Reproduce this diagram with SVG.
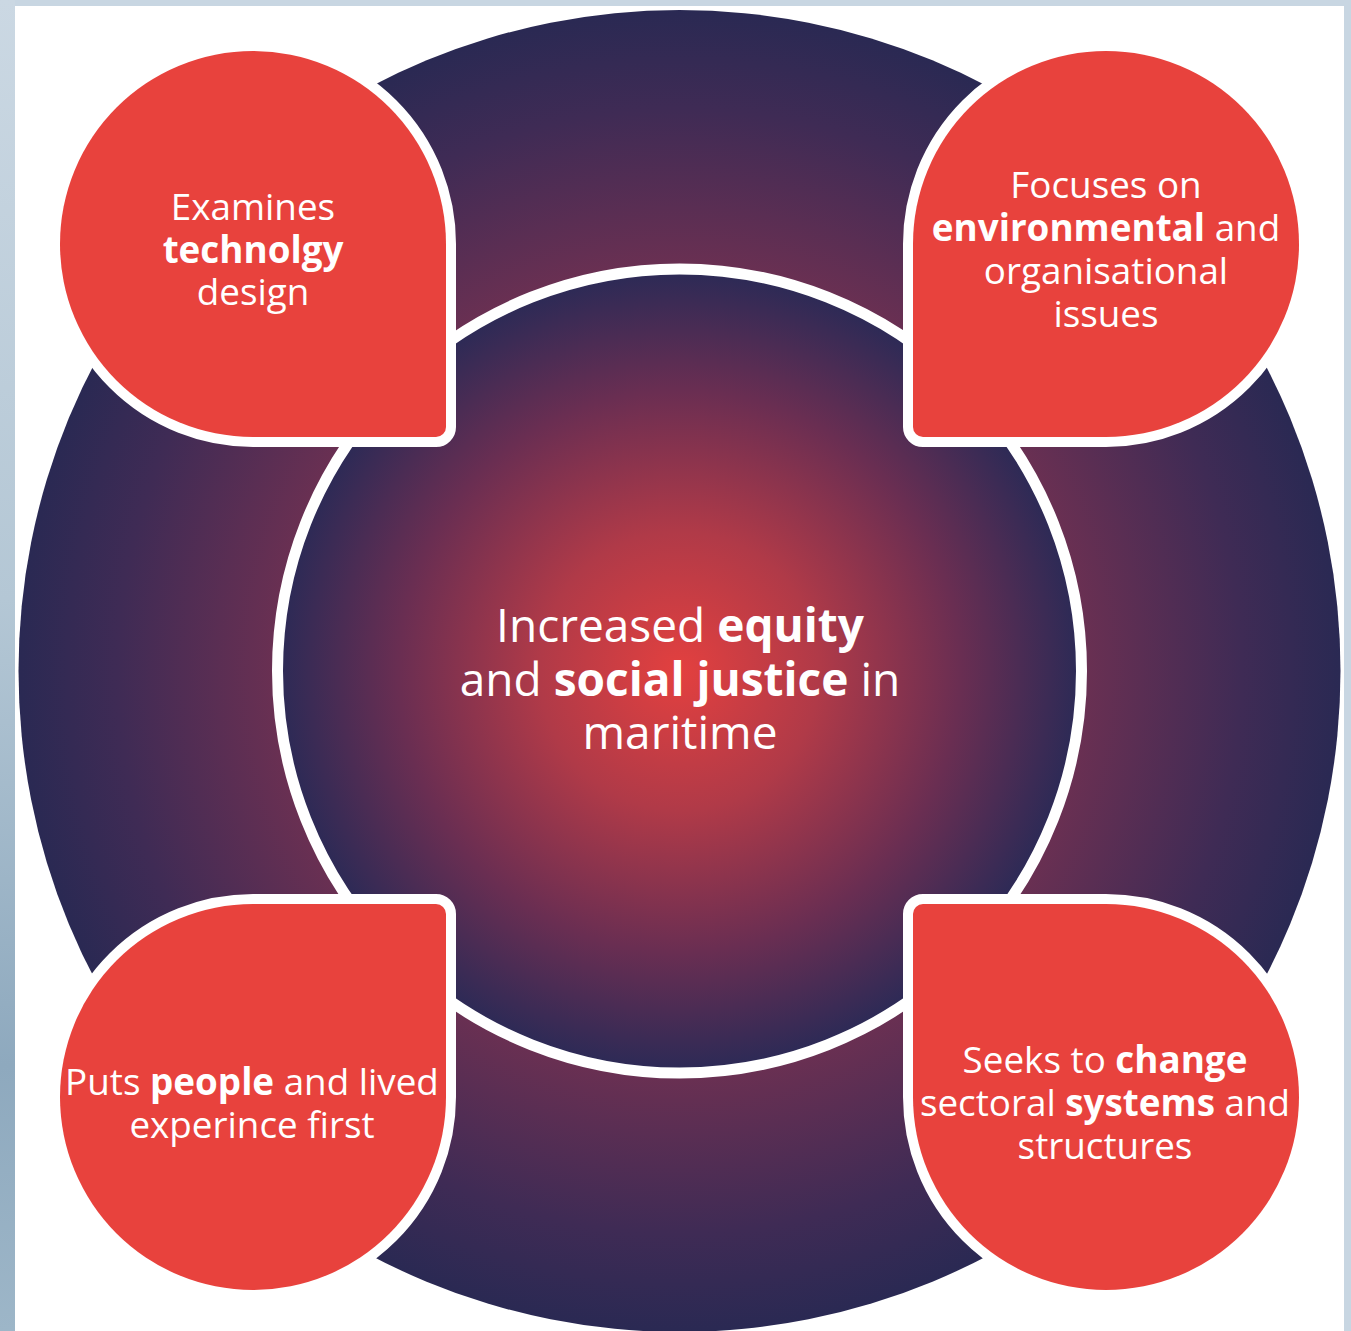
<svg xmlns="http://www.w3.org/2000/svg" width="1351" height="1331" viewBox="0 0 1351 1331">
  <defs>
    <linearGradient id="leftStrip" x1="0" y1="0" x2="0" y2="1">
      <stop offset="0" stop-color="#cbd8e3"/>
      <stop offset="0.45" stop-color="#b4c7d5"/>
      <stop offset="0.8" stop-color="#8ea9be"/>
      <stop offset="1" stop-color="#9db6c8"/>
    </linearGradient>
    <radialGradient id="outerGrad" gradientUnits="userSpaceOnUse" cx="679.5" cy="671" r="661">
      <stop offset="0" stop-color="#8a3250"/>
      <stop offset="0.6" stop-color="#6c3052"/>
      <stop offset="0.85" stop-color="#3f2b55"/>
      <stop offset="1" stop-color="#2a2953"/>
    </radialGradient>
    <radialGradient id="innerGrad" gradientUnits="userSpaceOnUse" cx="679.5" cy="671" r="400">
      <stop offset="0" stop-color="#e3403f"/>
      <stop offset="0.35" stop-color="#b03a48"/>
      <stop offset="0.7" stop-color="#6a2e52"/>
      <stop offset="1" stop-color="#2c2a56"/>
    </radialGradient>
    <style>
      .node { fill: #e8423d; stroke: #ffffff; stroke-width: 20; paint-order: stroke; stroke-linejoin: round; }
      .lbl { font-family: "Open Sans", "Liberation Sans", sans-serif; fill: #ffffff; text-anchor: middle; font-size: 36.8px; }
      .center { font-size: 46px; }
      .b { font-weight: 700; }
    </style>
  </defs>

  <!-- background -->
  <rect x="0" y="0" width="1351" height="1331" fill="#c8d6e2"/>
  <rect x="0" y="0" width="15" height="1331" fill="url(#leftStrip)"/>
  <rect x="15" y="6" width="1329" height="1325" fill="#ffffff"/>

  <!-- rings -->
  <g id="rings">
    <circle cx="679.5" cy="671" r="661" fill="url(#outerGrad)"/>
    <circle cx="679.5" cy="671" r="402" fill="url(#innerGrad)" stroke="#ffffff" stroke-width="11"/>
  </g>

  <g id="connectors"></g>

  <g id="node-center">
    <text class="lbl center" x="680" y="642">Increased <tspan class="b">equity</tspan></text>
    <text class="lbl center" x="680" y="696">and <tspan class="b">social justice</tspan> in</text>
    <text class="lbl center" x="680" y="749">maritime</text>
  </g>

  <g id="node-technology">
    <path class="node" d="M 446,244 L 446,427 A 10 10 0 0 1 436,437 L 253,437 A 193 193 0 0 1 60,244 A 193 193 0 0 1 253,51 A 193 193 0 0 1 446,244 Z"/>
    <text class="lbl" x="253" y="220">Examines</text>
    <text class="lbl b" x="253" y="262.5">technolgy</text>
    <text class="lbl" x="253" y="305">design</text>
  </g>

  <g id="node-environmental">
    <path class="node" d="M 913,244 A 193 193 0 0 1 1106,51 A 193 193 0 0 1 1299,244 A 193 193 0 0 1 1106,437 L 923,437 A 10 10 0 0 1 913,427 Z"/>
    <text class="lbl" x="1106" y="198">Focuses on</text>
    <text class="lbl" x="1106" y="241"><tspan class="b">environmental</tspan> and</text>
    <text class="lbl" x="1106" y="284">organisational</text>
    <text class="lbl" x="1106" y="327">issues</text>
  </g>

  <g id="node-people">
    <path class="node" d="M 60,1097 A 193 193 0 0 1 253,904 L 436,904 A 10 10 0 0 1 446,914 L 446,1097 A 193 193 0 0 1 253,1290 A 193 193 0 0 1 60,1097 Z"/>
    <text class="lbl" x="252" y="1095">Puts <tspan class="b">people</tspan> and lived</text>
    <text class="lbl" x="252" y="1138">experince first</text>
  </g>

  <g id="node-systems">
    <path class="node" d="M 913,914 A 10 10 0 0 1 923,904 L 1106,904 A 193 193 0 0 1 1299,1097 A 193 193 0 0 1 1106,1290 A 193 193 0 0 1 913,1097 Z"/>
    <text class="lbl" x="1105" y="1073">Seeks to <tspan class="b">change</tspan></text>
    <text class="lbl" x="1105" y="1116">sectoral <tspan class="b">systems</tspan> and</text>
    <text class="lbl" x="1105" y="1159">structures</text>
  </g>
</svg>
